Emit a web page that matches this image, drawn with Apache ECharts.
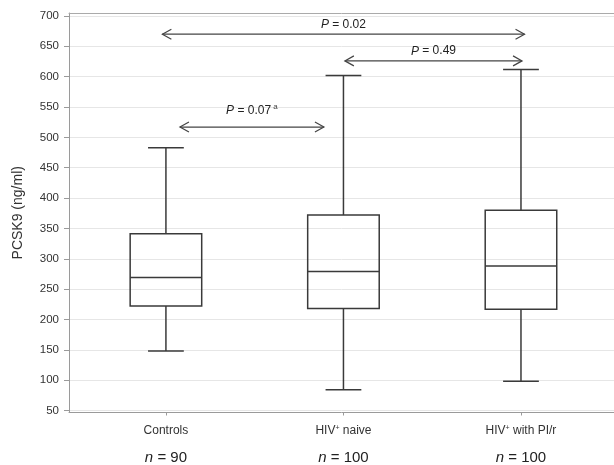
<!DOCTYPE html>
<html>
<head>
<meta charset="utf-8">
<script src="https://cdn.jsdelivr.net/npm/echarts@6/dist/echarts.min.js"></script>
<style>html,body{margin:0;padding:0;background:#fff}#c{width:614px;height:465px}</style>
</head>
<body>
<div id="c"></div>
<script>
// ---- data ----
const categories = ['Controls', 'HIV+ naive', 'HIV+ with PI/r'];
const nCounts = [90, 100, 100];
const groupPos = [0, 1, 2];
const whiskerMin = [148, 84, 98];
const quartile1 = [222, 218, 217];
const medians = [269, 279, 288];
const quartile3 = [341, 372, 380];
const whiskerMax = [483, 602, 612];
const yTicks = [50, 100, 150, 200, 250, 300, 350, 400, 450, 500, 550, 600, 650, 700];
// comparison arrows: from, to (group axis units), level (ng/ml), label level, p text, superscript
const arrowFrom = [0.079, -0.02, 1.008];
const arrowTo = [0.89, 2.02, 2.006];
const arrowLevel = [517, 670, 626];
const labelLevel = [544, 685, 642];
const pValues = ['0.07', '0.02', '0.49'];
const pNotes = ['a', '', ''];

const font = "'Liberation Sans', Arial, sans-serif";
const boxData = groupPos.map((x, i) => [x, whiskerMin[i], quartile1[i], medians[i], quartile3[i], whiskerMax[i]]);
const arrowData = arrowFrom.map((f, i) => [f, arrowTo[i], arrowLevel[i], labelLevel[i], i]);

const chart = echarts.init(document.getElementById('c'), null, {renderer: 'canvas'});
const lineColor = '#3a3a3a';

chart.setOption({
  animation: false,
  backgroundColor: '#fff',
  grid: {left: 69, right: 0, top: 13, bottom: 52},
  xAxis: [{
    type: 'value', min: -0.546, max: 2.524,
    splitLine: {show: false},
    axisLine: {show: true, onZero: false, lineStyle: {color: '#9a9a9a', width: 1}},
    axisTick: {show: true, customValues: groupPos, length: 3, lineStyle: {color: '#9a9a9a'}},
    axisLabel: {
      customValues: groupPos, margin: 8, fontFamily: font,
      formatter: function (v) {
        const i = Math.round(v);
        const name = categories[i];
        let first;
        if (name.indexOf('HIV+') === 0) {
          first = '{c|HIV}{sup|+}{c|' + name.slice(4) + '}';
        } else {
          first = '{c|' + name + '}';
        }
        return first + '\n{n|n}{m| = ' + nCounts[i] + '}';
      },
      rich: {
        c: {fontSize: 12, color: '#333', fontFamily: font, lineHeight: 21},
        sup: {fontSize: 7, color: '#333', fontFamily: font, lineHeight: 21, padding: [0, 0, 6, 0]},
        n: {fontSize: 15, color: '#222', fontStyle: 'italic', fontFamily: font, lineHeight: 32},
        m: {fontSize: 15, color: '#222', fontFamily: font, lineHeight: 32}
      }
    }
  }, {
    type: 'value', min: -0.546, max: 2.524, position: 'top',
    splitLine: {show: false}, axisTick: {show: false}, axisLabel: {show: false},
    axisLine: {show: true, onZero: false, lineStyle: {color: '#aaaaaa', width: 1}}
  }],
  yAxis: {
    type: 'value', min: 46.7, max: 704.9, position: 'left',
    name: 'PCSK9 (ng/ml)', nameLocation: 'middle', nameGap: 44,
    nameTextStyle: {fontSize: 14, color: '#333', fontFamily: font},
    axisLine: {show: true, onZero: false, lineStyle: {color: '#9a9a9a', width: 1}},
    axisTick: {show: true, customValues: yTicks, length: 5, lineStyle: {color: '#9a9a9a'}},
    axisLabel: {customValues: yTicks, margin: 10, fontSize: 11.5, color: '#333', fontFamily: font},
    splitLine: {show: true, lineStyle: {color: '#e6e6e6', width: 1}}
  },
  series: [{
    type: 'custom',
    xAxisIndex: 0,
    data: boxData,
    renderItem: function (params, api) {
      const x = api.value(0);
      const unit = api.size([1, 0])[0];
      const w = unit * 0.403;
      const cap = w / 2;
      const pMin = api.coord([x, api.value(1)]);
      const pQ1 = api.coord([x, api.value(2)]);
      const pMed = api.coord([x, api.value(3)]);
      const pQ3 = api.coord([x, api.value(4)]);
      const pMax = api.coord([x, api.value(5)]);
      const cx = pMin[0];
      const st = {stroke: lineColor, lineWidth: 1.5, fill: null};
      return {
        type: 'group',
        children: [
          {type: 'rect', shape: {x: cx - w / 2, y: pQ3[1], width: w, height: pQ1[1] - pQ3[1]}, style: {stroke: lineColor, lineWidth: 1.5, fill: 'rgba(0,0,0,0)'}},
          {type: 'line', shape: {x1: cx - w / 2, y1: pMed[1], x2: cx + w / 2, y2: pMed[1]}, style: st},
          {type: 'line', shape: {x1: cx, y1: pQ3[1], x2: cx, y2: pMax[1]}, style: st},
          {type: 'line', shape: {x1: cx, y1: pQ1[1], x2: cx, y2: pMin[1]}, style: st},
          {type: 'line', shape: {x1: cx - cap / 2, y1: pMax[1], x2: cx + cap / 2, y2: pMax[1]}, style: st},
          {type: 'line', shape: {x1: cx - cap / 2, y1: pMin[1], x2: cx + cap / 2, y2: pMin[1]}, style: st}
        ]
      };
    }
  }, {
    type: 'custom',
    xAxisIndex: 0,
    data: arrowData,
    renderItem: function (params, api) {
      const p1 = api.coord([api.value(0), api.value(2)]);
      const p2 = api.coord([api.value(1), api.value(2)]);
      const pl = api.coord([(api.value(0) + api.value(1)) / 2, api.value(3)]);
      const i = api.value(4);
      const hl = 9, hh = 5;
      const st = {stroke: '#444', lineWidth: 1.2, fill: null};
      let txt = '{i|P}{t| = ' + pValues[i] + '}';
      if (pNotes[i]) txt += '{s| ' + pNotes[i] + '}';
      return {
        type: 'group',
        children: [
          {type: 'line', shape: {x1: p1[0], y1: p1[1], x2: p2[0], y2: p2[1]}, style: st},
          {type: 'polyline', shape: {points: [[p1[0] + hl, p1[1] - hh], [p1[0], p1[1]], [p1[0] + hl, p1[1] + hh]]}, style: st},
          {type: 'polyline', shape: {points: [[p2[0] - hl, p2[1] - hh], [p2[0], p2[1]], [p2[0] - hl, p2[1] + hh]]}, style: st},
          {type: 'text', x: pl[0], y: pl[1], style: {
            text: txt, align: 'center', verticalAlign: 'middle',
            rich: {
              i: {fontSize: 12, fontStyle: 'italic', fill: '#222', fontFamily: font},
              t: {fontSize: 12, fill: '#222', fontFamily: font},
              s: {fontSize: 8, fill: '#444', fontFamily: font, padding: [0, 0, 7, 0]}
            }
          }}
        ]
      };
    }
  }]
});
</script>
</body>
</html>
